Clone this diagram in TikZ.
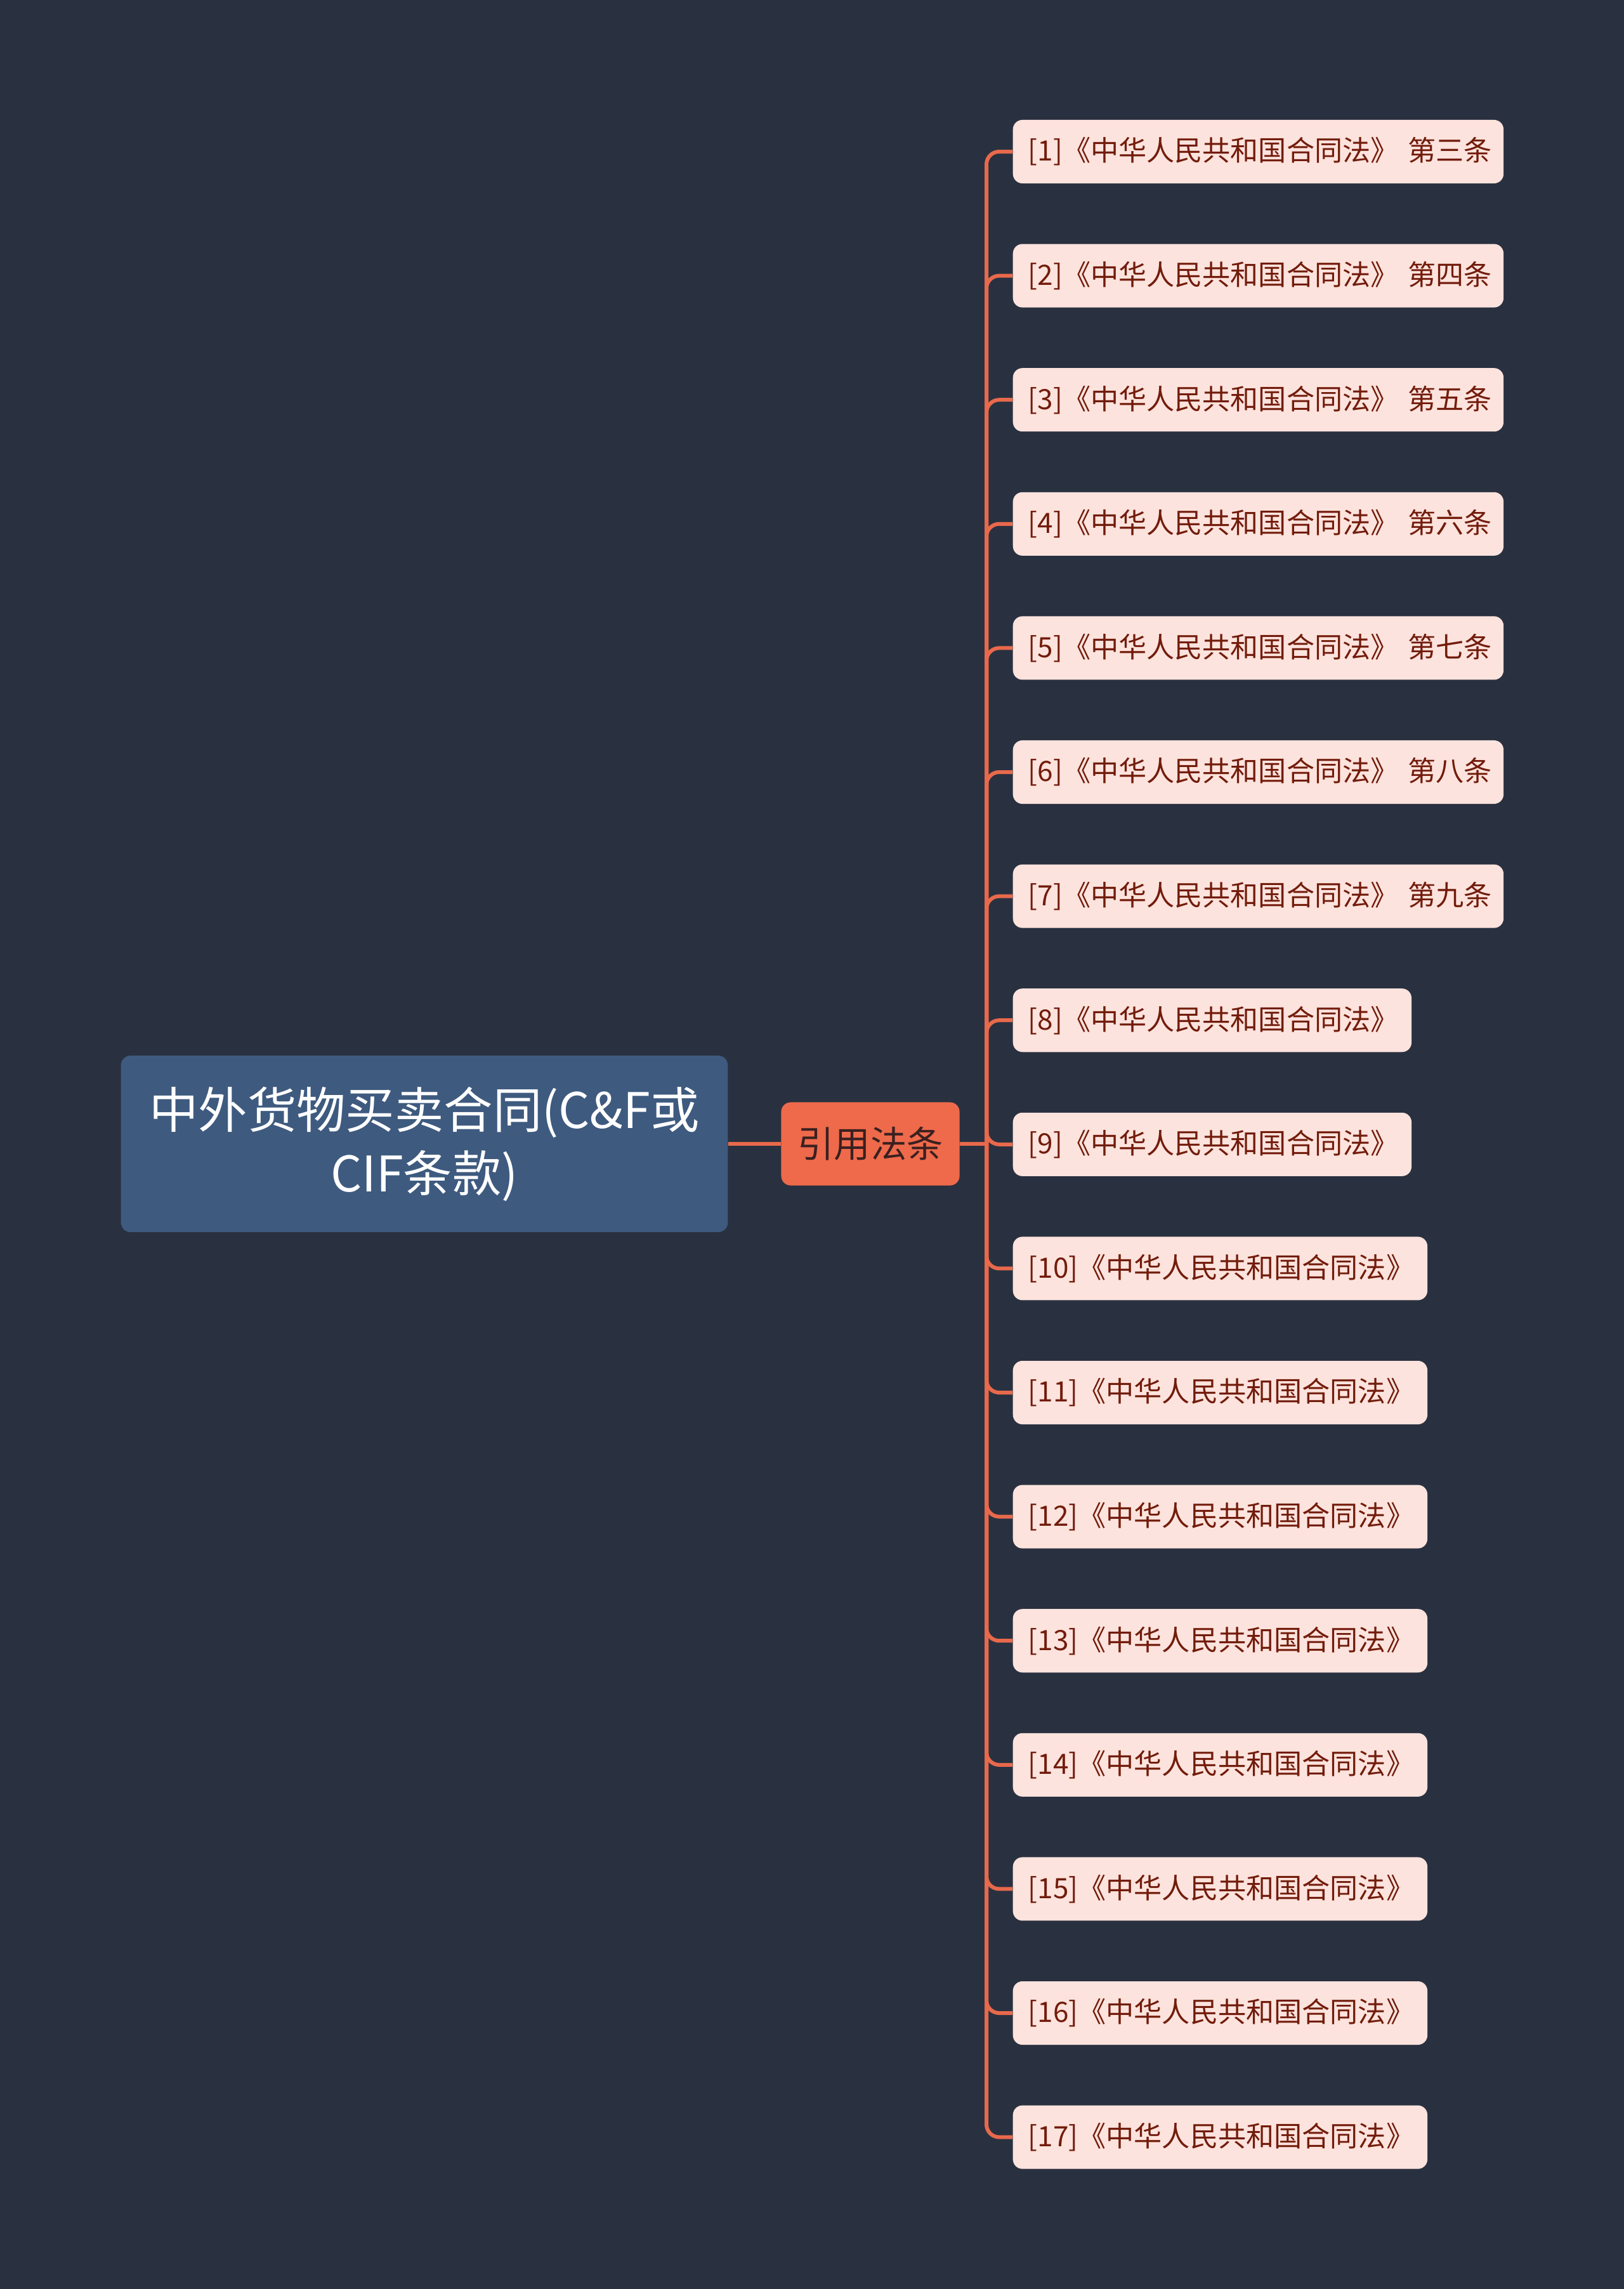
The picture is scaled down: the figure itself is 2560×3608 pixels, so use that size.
\documentclass[tikz,border=0pt]{standalone}
\usepackage{fontspec}
\setmainfont{Noto Sans CJK SC}
\definecolor{bgc}{HTML}{293140}
\definecolor{rootc}{HTML}{3E5A7F}
\definecolor{midc}{HTML}{EE6A4B}
\definecolor{linec}{HTML}{E8694B}
\definecolor{leafc}{HTML}{FDE3DD}
\definecolor{leaft}{HTML}{721C0C}
\definecolor{midt}{HTML}{3A2020}
\begin{document}
\begin{tikzpicture}[x=0.01cm,y=-0.01cm,
  rootbox/.style={fill=rootc,rounded corners=0.15cm,text=white,align=center,
    minimum width=9.56cm,minimum height=2.78cm,inner sep=0pt,
    font=\fontsize{22pt}{28.5pt}\selectfont},
  midbox/.style={fill=midc,rounded corners=0.15cm,text=midt,
    minimum width=2.81cm,minimum height=1.31cm,inner sep=0pt,
    font=\fontsize{16.3pt}{19pt}\selectfont},
  leafbox/.style={fill=leafc,rounded corners=0.15cm,text=leaft,anchor=west,
    minimum height=1cm,inner xsep=0.24cm,inner ysep=0pt,align=left,
    font=\fontsize{12.55pt}{15pt}\selectfont},
  conn/.style={draw=linec,line width=0.06cm},
]
\fill[bgc] (0,0) rectangle (2560,3608);
\useasboundingbox (0,0) rectangle (2560,3608);

\node[rootbox] (root) at (669,1803) {中外货物买卖合同(C\&F或\\CIF条款)};
\node[midbox] (mid) at (1372,1803) {引用法条};
\coordinate (junc) at (1555,1803);

\foreach \i/\yy/\w/\t in {
 1/239/7.25/{[1]《中华人民共和国合同法》 第三条},
 2/434.6/7.25/{[2]《中华人民共和国合同法》 第四条},
 3/630.2/7.25/{[3]《中华人民共和国合同法》 第五条},
 4/825.8/7.25/{[4]《中华人民共和国合同法》 第六条},
 5/1021.4/7.25/{[5]《中华人民共和国合同法》 第七条},
 6/1217/7.25/{[6]《中华人民共和国合同法》 第八条},
 7/1412.6/7.25/{[7]《中华人民共和国合同法》 第九条},
 8/1608.2/5.80/{[8]《中华人民共和国合同法》},
 9/1803.8/5.80/{[9]《中华人民共和国合同法》},
 10/1999.4/6.05/{[10]《中华人民共和国合同法》},
 11/2195/6.05/{[11]《中华人民共和国合同法》},
 12/2390.6/6.05/{[12]《中华人民共和国合同法》},
 13/2586.2/6.05/{[13]《中华人民共和国合同法》},
 14/2781.8/6.05/{[14]《中华人民共和国合同法》},
 15/2977.4/6.05/{[15]《中华人民共和国合同法》},
 16/3173/6.05/{[16]《中华人民共和国合同法》},
 17/3368.6/6.05/{[17]《中华人民共和国合同法》}} {
  \node[leafbox,text width=\w cm] (leaf\i) at (1596,\yy) {\mbox{\t}};
  \draw[conn,rounded corners=0.2cm] (junc) |- (leaf\i.west);
}

\draw[conn] (root.east) -- (mid.west);
\draw[conn] (mid.east) -- (junc);
\end{tikzpicture}
\end{document}
